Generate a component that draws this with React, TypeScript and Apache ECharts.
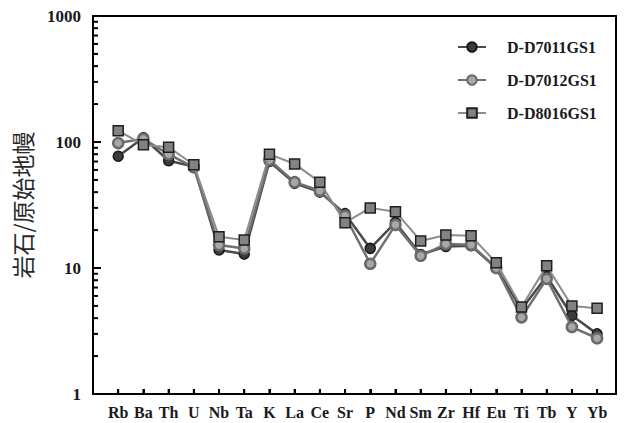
import React, { useEffect, useRef } from "react";
import * as echarts from "echarts";

// Trace elements normalised to primitive mantle
const elements = ["Rb", "Ba", "Th", "U", "Nb", "Ta", "K", "La", "Ce", "Sr", "P", "Nd", "Sm", "Zr", "Hf", "Eu", "Ti", "Tb", "Y", "Yb"];

const seriesNames = ["D-D7011GS1", "D-D7012GS1", "D-D8016GS1"];

const d7011 = [77, 108, 71, 64, 13.9, 12.9, 70, 47, 40, 27, 14.3, 23, 12.8, 14.8, 15, 10, 4.7, 8.6, 4.2, 3.0];
const d7012 = [98, 106, 80, 63, 15.2, 14.3, 72, 48, 41, 26, 10.8, 22, 12.5, 15.5, 15.3, 10, 4.06, 8.2, 3.4, 2.77];
const d8016 = [123, 95, 91, 66, 17.7, 16.7, 80, 67, 48, 22.9, 30, 28, 16.4, 18.3, 18, 11, 4.9, 10.4, 5.0, 4.8];

const yTicks = [1, 10, 100, 1000];
// log-scale minor ticks inside each decade
const minorTicks = [2, 3, 4, 5, 6, 7, 8, 9, 20, 30, 40, 50, 60, 70, 80, 90, 200, 300, 400, 500, 600, 700, 800, 900];

const serif = "Liberation Serif";
const ink = "#000000";

export default function App() {
  const ref = useRef<HTMLDivElement>(null);

  useEffect(() => {
    if (!ref.current) return;
    const chart = echarts.init(ref.current, undefined, { renderer: "svg" });

    const toPairs = (arr: number[]) => arr.map((v, i) => [i, v]);
    const xMin = -1;
    const xMax = 19.75;

    const frameAxis = {
      axisLine: { show: true, onZero: false, lineStyle: { color: ink, width: 2 } },
      axisTick: { show: false },
      axisLabel: { show: false },
      splitLine: { show: false },
    };

    chart.setOption({
      animation: false,
      grid: { left: 93, right: 11, top: 16, bottom: 29 },
      legend: {
        orient: "vertical",
        left: 452,
        top: 34,
        itemWidth: 28,
        itemHeight: 12,
        itemGap: 17,
        data: seriesNames,
        textStyle: {
          fontFamily: serif,
          fontWeight: "bold",
          fontSize: 16,
          color: "#1a1a1a",
          padding: [0, 0, 0, 16],
        },
      },
      xAxis: [
        {
          type: "value",
          min: xMin,
          max: xMax,
          interval: 1,
          axisLine: { show: true, onZero: false, lineStyle: { color: ink, width: 2 } },
          axisTick: { show: true, inside: true, length: 5, lineStyle: { color: ink, width: 2 } },
          splitLine: { show: false },
          axisLabel: {
            showMaxLabel: false,
            showMinLabel: false,
            margin: 10,
            fontFamily: serif,
            fontWeight: "bold",
            fontSize: 16,
            color: "#1a1a1a",
            formatter: (v: number) => (Number.isInteger(v) && v >= 0 && v < elements.length ? elements[v] : ""),
          },
        },
        { type: "value", position: "top", min: xMin, max: xMax, ...frameAxis },
      ],
      yAxis: [
        {
          type: "log",
          logBase: 10,
          min: yTicks[0],
          max: yTicks[yTicks.length - 1],
          name: "岩石/原始地幔",
          nameLocation: "middle",
          nameRotate: 90,
          nameGap: 60,
          nameTextStyle: {
            fontFamily: "Noto Sans CJK SC",
            fontSize: 23,
            color: "#2a2a2a",
          },
          axisLine: { show: true, onZero: false, lineStyle: { color: ink, width: 2 } },
          axisTick: { show: true, inside: true, length: 8, lineStyle: { color: ink, width: 2 } },
          splitLine: { show: false },
          axisLabel: {
            margin: 12,
            fontFamily: serif,
            fontWeight: "bold",
            fontSize: 17,
            color: "#1a1a1a",
            formatter: (v: number) => String(Math.round(v)),
          },
        },
        { type: "log", logBase: 10, position: "right", min: yTicks[0], max: yTicks[yTicks.length - 1], ...frameAxis },
      ],
      series: [
        {
          name: seriesNames[0],
          type: "line",
          data: toPairs(d7011),
          symbol: "circle",
          symbolSize: 10,
          lineStyle: { color: "#4a4a4a", width: 2.5 },
          itemStyle: { color: "#3c3c3c", borderColor: "#1a1a1a", borderWidth: 1.5 },
          z: 3,
        },
        {
          name: seriesNames[1],
          type: "line",
          data: toPairs(d7012),
          symbol: "circle",
          symbolSize: 10,
          lineStyle: { color: "#707070", width: 2.5 },
          itemStyle: { color: "#a8a8a8", borderColor: "#6a6a6a", borderWidth: 2.5 },
          z: 4,
        },
        {
          name: seriesNames[2],
          type: "line",
          data: toPairs(d8016),
          symbol: "rect",
          symbolSize: 10,
          lineStyle: { color: "#8c8c8c", width: 2 },
          itemStyle: { color: "#828282", borderColor: "#1e1e1e", borderWidth: 1.5 },
          z: 5,
        },
      ],
    });

    // Tick marks placed through the axes' own scales
    const toPx = (x: number, y: number) =>
      chart.convertToPixel({ xAxisIndex: 0, yAxisIndex: 0 }, [x, y]) as number[];
    const tickLine = (x1: number, y1: number, x2: number, y2: number) => ({
      type: "line",
      z: 100,
      silent: true,
      shape: { x1, y1, x2, y2 },
      style: { stroke: ink, lineWidth: 2 },
    });
    const marks: any[] = [];
    minorTicks.forEach((v) => {
      const [px, py] = toPx(xMin, v);
      marks.push(tickLine(px, py, px + 5, py));
    });
    yTicks.slice(1, -1).forEach((v) => {
      const [px, py] = toPx(xMin, v);
      marks.push(tickLine(px, py, px + 8, py));
    });
    elements.forEach((_, i) => {
      const [px, py] = toPx(i, yTicks[0]);
      marks.push(tickLine(px, py, px, py - 5));
    });
    chart.setOption({ graphic: { elements: marks } });

    return () => chart.dispose();
  }, []);

  return <div ref={ref} style={{ width: 627, height: 423, position: "absolute", left: 0, top: 0 }} />;
}
